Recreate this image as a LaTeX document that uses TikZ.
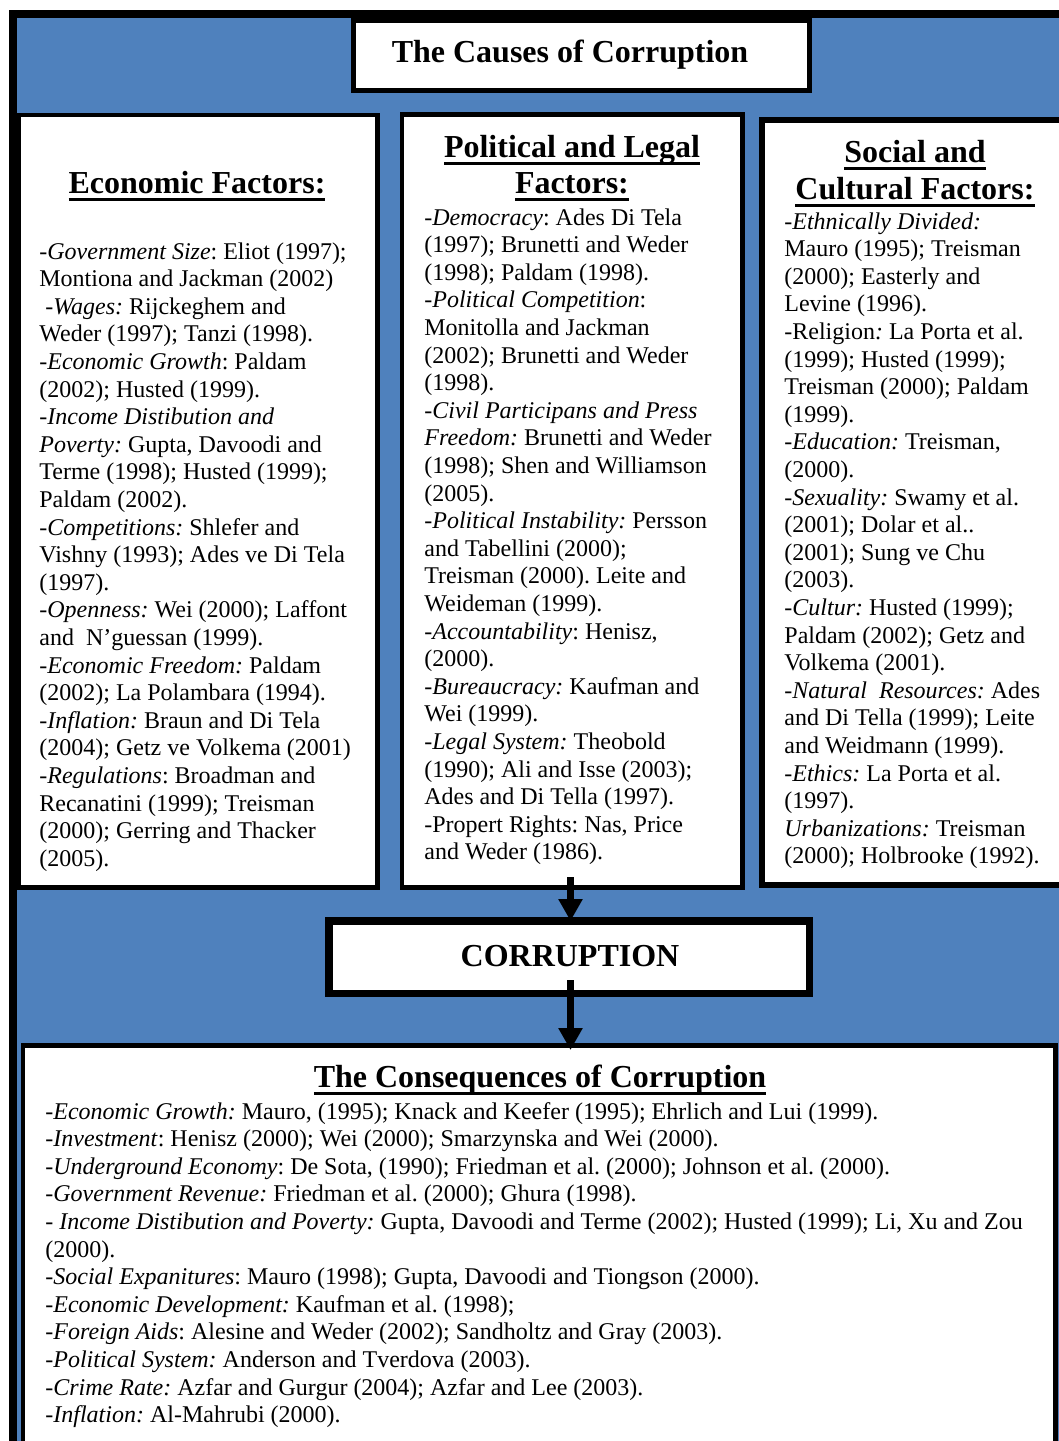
\documentclass[tikz,border=0pt]{standalone}
\usepackage{fontspec}
\setmainfont{Liberation Serif}
\usetikzlibrary{arrows.meta}
\definecolor{blueC}{RGB}{79,129,189}
\newcommand\hul[1]{\setbox0=\hbox{#1}\rlap{\rule[-3.8pt]{\wd0}{1.4pt}}\box0}
\tikzset{
  box/.style={draw=black, fill=white, inner sep=0pt, outer sep=0pt, anchor=north west},
  body/.style={anchor=base west, inner sep=0pt, align=flush left, font=\fontsize{12}{13.8}\selectfont\frenchspacing},
  head/.style={anchor=base, inner sep=0pt, font=\fontsize{16}{18.4}\selectfont\bfseries\frenchspacing},
  arr/.style={line width=3.5pt, -{Triangle[width=11.5pt,length=11pt]}}
}
\begin{document}
\frenchspacing
\begin{tikzpicture}[x=0.5pt,y=-0.5pt]
\useasboundingbox (0,0) rectangle (1059,1441);
\clip (0,0) rectangle (1059,1441);
\fill[white] (0,0) rectangle (1059,1441);
% outer frame
\draw[line width=4pt, fill=blueC] (13,14) rectangle (1120,1520);

% boxes
\node[box, line width=2.5pt, minimum width=228pt, minimum height=35pt] (title) at (353.5,20.5) {};
\node[box, line width=2.25pt, minimum width=179.25pt, minimum height=386.25pt] (econ) at (19,115) {};
\node[box, line width=2.25pt, minimum width=170.25pt, minimum height=386.5pt] (pol) at (402,114.5) {};
\node[box, line width=3pt, minimum width=175pt, minimum height=382.5pt] (soc) at (761.5,119.5) {};
\node[box, line width=3.75pt, minimum width=240.25pt, minimum height=36.25pt] (cor) at (329,921) {};
\node[box, line width=2.25pt, minimum width=516.25pt, minimum height=250pt] (cons) at (23,1045.5) {};

% headings
\node[head] (tt) at (570,62) {The Causes of Corruption};
\node[head] (eh) at (197,193) {\hul{Economic Factors:}};
\node[head] (ph1) at (572,157) {\hul{Political and Legal}};
\node[head] (ph2) at (572,193) {\hul{Factors:}};
\node[head] (sh1) at (915,162) {\hul{Social and}};
\node[head] (sh2) at (915,199) {\hul{Cultural Factors:}};
\node[head] (ct) at (570,966) {CORRUPTION};
\node[head] (csh) at (540,1087) {\hul{The Consequences of Corruption}};

% body texts
\node[body, text width=200pt] (etx) at (39,259) {%
\textit{-Government Size}: Eliot (1997);\\
Montiona and Jackman (2002)\\
\hspace*{3pt}\textit{-Wages:} Rijckeghem and\\
Weder (1997); Tanzi (1998).\\
\textit{-Economic Growth}: Paldam\\
(2002); Husted (1999).\\
\textit{-Income Distibution and}\\
\textit{Poverty:} Gupta, Davoodi and\\
Terme (1998); Husted (1999);\\
Paldam (2002).\\
\textit{-Competitions:} Shlefer and\\
Vishny (1993); Ades ve Di Tela\\
(1997).\\
\textit{-Openness:} Wei (2000); Laffont\\
and\ \ N’guessan (1999).\\
\textit{-Economic Freedom:} Paldam\\
(2002); La Polambara (1994).\\
\textit{-Inflation:} Braun and Di Tela\\
(2004); Getz ve Volkema (2001)\\
\textit{-Regulations}: Broadman and\\
Recanatini (1999); Treisman\\
(2000); Gerring and Thacker\\
(2005).};

\node[body, text width=200pt] (ptx) at (424,225) {%
\textit{-Democracy}: Ades Di Tela\\
(1997); Brunetti and Weder\\
(1998); Paldam (1998).\\
\textit{-Political Competition}:\\
Monitolla and Jackman\\
(2002); Brunetti and Weder\\
(1998).\\
\textit{-Civil Participans and Press}\\
\textit{Freedom:} Brunetti and Weder\\
(1998); Shen and Williamson\\
(2005).\\
\textit{-Political Instability:} Persson\\
and Tabellini (2000);\\
Treisman (2000). Leite and\\
Weideman (1999).\\
\textit{-Accountability}: Henisz,\\
(2000).\\
\textit{-Bureaucracy:} Kaufman and\\
Wei (1999).\\
\textit{-Legal System:} Theobold\\
(1990); Ali and Isse (2003);\\
Ades and Di Tella (1997).\\
-Propert Rights: Nas, Price\\
and Weder (1986).};

\node[body, text width=200pt] (stx) at (784,229) {%
\textit{-Ethnically Divided:}\\
Mauro (1995); Treisman\\
(2000); Easterly and\\
Levine (1996).\\
-Religion\textit{:} La Porta et al.\\
(1999); Husted (1999);\\
Treisman (2000); Paldam\\
(1999).\\
\textit{-Education:} Treisman,\\
(2000).\\
\textit{-Sexuality:} Swamy et al.\\
(2001); Dolar et al..\\
(2001); Sung ve Chu\\
(2003).\\
\textit{-Cultur:} Husted (1999);\\
Paldam (2002); Getz and\\
Volkema (2001).\\
\textit{-Natural\ \ Resources:} Ades\\
and Di Tella (1999); Leite\\
and Weidmann (1999).\\
\textit{-Ethics:} La Porta et al.\\
(1997).\\
\textit{Urbanizations:} Treisman\\
(2000); Holbrooke (1992).};

\node[body, text width=504pt] (ctx) at (45,1119) {%
\textit{-Economic Growth:} Mauro, (1995); Knack and Keefer (1995); Ehrlich and Lui (1999).\\
\textit{-Investment}: Henisz (2000); Wei (2000); Smarzynska and Wei (2000).\\
\textit{-Underground Economy}: De Sota, (1990); Friedman et al. (2000); Johnson et al. (2000).\\
\textit{-Government Revenue:} Friedman et al. (2000); Ghura (1998).\\
\textit{- Income Distibution and Poverty:} Gupta, Davoodi and Terme (2002); Husted (1999); Li, Xu and Zou\\
(2000).\\
\textit{-Social Expanitures}: Mauro (1998); Gupta, Davoodi and Tiongson (2000).\\
\textit{-Economic Development:} Kaufman et al. (1998);\\
\textit{-Foreign Aids}: Alesine and Weder (2002); Sandholtz and Gray (2003).\\
\textit{-Political System:} Anderson and Tverdova (2003).\\
\textit{-Crime Rate:} Azfar and Gurgur (2004); Azfar and Lee (2003).\\
\textit{-Inflation:} Al-Mahrubi (2000).};

% arrows
\coordinate (a1) at (570.5,877);
\coordinate (a2) at (570.5,980);
\draw[arr] (a1) -- (a1 |- cor.north);
\draw[arr, shorten >=-2.25pt] (a2) -- (a2 |- cons.north);
\end{tikzpicture}
\end{document}
